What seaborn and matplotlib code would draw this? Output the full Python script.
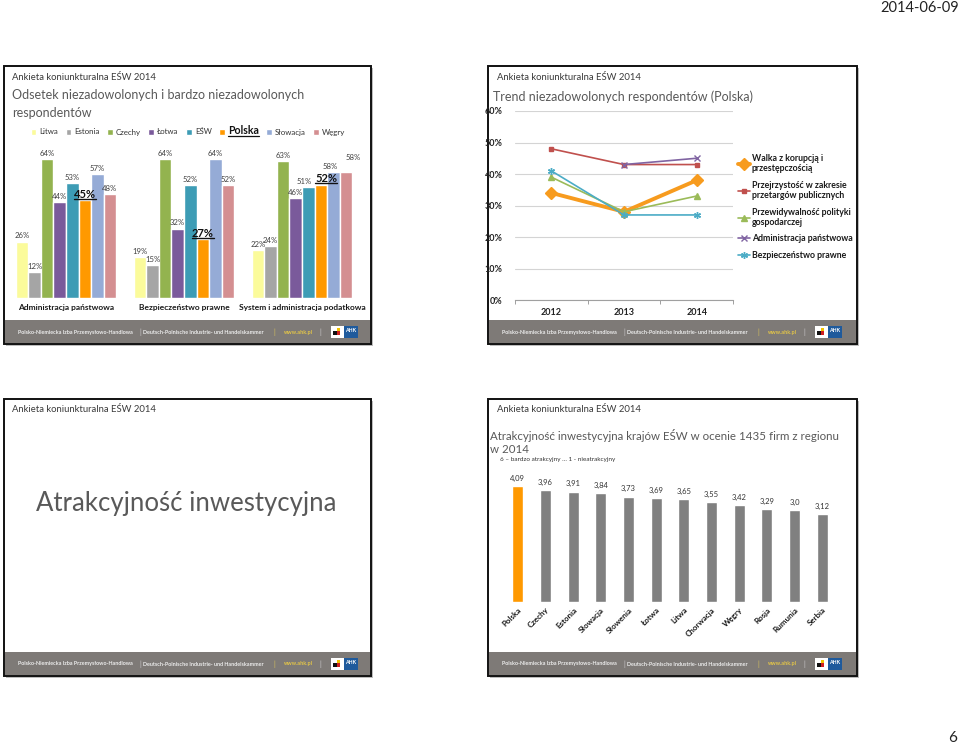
import numpy as np
import pandas as pd
import matplotlib
matplotlib.use("Agg")
import matplotlib.pyplot as plt
import seaborn as sns
from matplotlib.patches import Rectangle
from matplotlib.lines import Line2D

# ---------------- DATA ----------------
# Slide 1: dissatisfied respondents (%)
areas1 = ['Administracja państwowa', 'Bezpieczeństwo prawne', 'System i administracja podatkowa']
countries1 = ['Litwa', 'Estonia', 'Czechy', 'Łotwa', 'EŚW', 'Polska', 'Słowacja', 'Węgry']
litwa = [26, 19, 22]
estonia = [12, 15, 24]
czechy = [64, 64, 63]
lotwa = [44, 32, 46]
esw = [53, 52, 51]
polska = [45, 27, 52]
slowacja = [57, 64, 58]
wegry = [48, 52, 58]

# Slide 2: trend (Polska), %
years = [2012, 2013, 2014]
series_names = ['Walka z korupcją i\nprzestępczością',
                'Przejrzystość w zakresie\nprzetargów publicznych',
                'Przewidywalność polityki\ngospodarczej',
                'Administracja państwowa',
                'Bezpieczeństwo prawne']
walka = [34, 28, 38]
przejrzystosc = [48, 43, 43]
przewidywalnosc = [39, 28, 33]
administracja = [np.nan, 43, 45]
bezpieczenstwo = [41, 27, 27]
y_ticks2 = [0, 10, 20, 30, 40, 50, 60]

# Slide 4: investment attractiveness
countries4 = ['Polska', 'Czechy', 'Estonia', 'Słowacja', 'Słowenia', 'Łotwa', 'Litwa',
              'Chorwacja', 'Węgry', 'Rosja', 'Rumunia', 'Serbia']
scores4 = [4.09, 3.96, 3.91, 3.84, 3.73, 3.69, 3.65, 3.55, 3.42, 3.29, 3.24, 3.12]
score_labels4 = ['4,09', '3,96', '3,91', '3,84', '3,73', '3,69', '3,65', '3,55',
                 '3,42', '3,29', '3,0', '3,12']

# ---------------- STYLE ----------------
sns.set_style('white')
FONT = ['Lato', 'DejaVu Sans']
plt.rcParams['font.family'] = FONT

W, H = 960, 746
fig = plt.figure(figsize=(W / 100, H / 100), dpi=100)
fig.patch.set_facecolor('white')


def fx(x):
    return x / W


def fy(y):
    return 1 - y / H


def axrect(x0, y0, x1, y1):
    return [x0 / W, 1 - y1 / H, (x1 - x0) / W, (y1 - y0) / H]


def ftext(x, y, s, **kw):
    kw.setdefault('va', 'center')
    return fig.text(fx(x), fy(y), s, **kw)


def slide(x0, y0, x1, y1):
    fig.add_artist(Rectangle((fx(x0 + 2), fy(y1 + 2)), (x1 - x0) / W, (y1 - y0) / H,
                             transform=fig.transFigure, fc='#bdbdbd', ec='none', zorder=-3))
    fig.add_artist(Rectangle((fx(x0), fy(y1)), (x1 - x0) / W, (y1 - y0) / H,
                             transform=fig.transFigure, fc='white', ec='#111111', lw=1.4, zorder=-2))
    # footer band
    fig.add_artist(Rectangle((fx(x0 + 1), fy(y1 - 1)), (x1 - x0 - 2) / W, 23 / H,
                             transform=fig.transFigure, fc='#7e7a77', ec='none', zorder=-1))
    yc = y1 - 12
    fs = 3.9
    col = '#ececec'
    ftext(x0 + 14, yc, 'Polsko-Niemiecka Izba Przemysłowo-Handlowa', fontsize=fs, color=col, weight='bold')
    ftext(x0 + 135, yc, '|', fontsize=5, color='#cfcfcf')
    ftext(x0 + 139, yc, 'Deutsch-Polnische Industrie- und Handelskammer', fontsize=fs, color=col, weight='bold')
    ftext(x0 + 269, yc, '|', fontsize=5, color='#d9c35a')
    ftext(x0 + 280, yc, 'www.ahk.pl', fontsize=fs, color='#e3c548', weight='bold')
    ftext(x0 + 315, yc, '|', fontsize=5, color='#cfcfcf')
    # logo
    fig.add_artist(Rectangle((fx(x0 + 327), fy(yc + 6)), 13 / W, 12 / H, transform=fig.transFigure,
                             fc='white', ec='none', zorder=1))
    fig.add_artist(Rectangle((fx(x0 + 329), fy(yc + 3)), 4 / W, 4 / H, transform=fig.transFigure,
                             fc='#111111', ec='none', zorder=2))
    fig.add_artist(Rectangle((fx(x0 + 333), fy(yc + 3)), 3 / W, 4 / H, transform=fig.transFigure,
                             fc='#d02020', ec='none', zorder=2))
    fig.add_artist(Rectangle((fx(x0 + 333), fy(yc - 1)), 3 / W, 3 / H, transform=fig.transFigure,
                             fc='#f2c200', ec='none', zorder=2))
    fig.add_artist(Rectangle((fx(x0 + 340), fy(yc + 6)), 14 / W, 12 / H, transform=fig.transFigure,
                             fc='#1f5a9c', ec='none', zorder=1))
    ftext(x0 + 347, yc - 1, 'AHK', fontsize=3.8, color='white', weight='bold', ha='center', zorder=3)


def underline(t, renderer, lw=1.0):
    bb = t.get_window_extent(renderer)
    inv = fig.transFigure.inverted()
    (a, b), (c, d) = inv.transform([(bb.x0, bb.y0 + 1), (bb.x1, bb.y0 + 1)])
    fig.add_artist(Line2D([a, c], [b, d], transform=fig.transFigure, color=t.get_color(), lw=lw))


# slides
slide(4, 66, 371, 344)
slide(488, 66, 857, 344)
slide(4, 399, 371, 676)
slide(488, 399, 857, 676)

HEAD_C = '#3a3a3a'
TITLE_C = '#595959'

# date and page number
ftext(959, 8, '2014-06-09', fontsize=10.5, color='#222222', ha='right')
ftext(957, 738, '6', fontsize=11, color='#222222', ha='right')

# ---------------- SLIDE 1 ----------------
ftext(12, 77, 'Ankieta koniunkturalna EŚW 2014', fontsize=6.8, color=HEAD_C)
ftext(12, 95, 'Odsetek niezadowolonych i bardzo niezadowolonych', fontsize=9.0, color=TITLE_C)
ftext(12, 113, 'respondentów', fontsize=9.0, color=TITLE_C)

colors1 = ['#FBFB9B', '#A5A5A5', '#93B34F', '#7A5A9B', '#3D9CB5', '#FF9900', '#95ABD6', '#D48F91']
vals1 = [litwa, estonia, czechy, lotwa, esw, polska, slowacja, wegry]
df1 = pd.DataFrame([{'area': a, 'country': c, 'value': v[i]}
                    for c, v in zip(countries1, vals1) for i, a in enumerate(areas1)])

ax1 = fig.add_axes(axrect(7, 146, 361, 298))
ax1.set_facecolor('none')
sns.barplot(data=df1, x='area', y='value', hue='country', hue_order=countries1, order=areas1,
            palette=colors1, saturation=1, width=0.85, gap=0, ax=ax1, legend=True, errorbar=None)
ax1.set_ylim(0, 70)
ax1.set_xlim(-0.5, 2.5)
ax1.set_xlabel('')
ax1.set_ylabel('')
ax1.set_yticks([])
sns.despine(ax=ax1, left=True, bottom=True)
ax1.tick_params(axis='x', length=0, pad=4)
for lab in ax1.get_xticklabels():
    lab.set_fontsize(6)
    lab.set_fontweight('bold')
    lab.set_color('#1a1a1a')

handles1, labels1 = ax1.get_legend_handles_labels()
ax1.get_legend().remove()
leg1 = fig.legend(handles1, labels1, loc='center', bbox_to_anchor=(fx(188), fy(131)), ncol=8,
                  frameon=False, fontsize=5.7, handlelength=0.7, handleheight=0.7,
                  handletextpad=0.4, columnspacing=0.95)
for t in leg1.get_texts():
    t.set_color('#333333')
    if t.get_text() == 'Polska':
        t.set_fontsize(7.6)
        t.set_fontweight('bold')
        t.set_color('#111111')

bold_labels = []
for ci, cont in enumerate(ax1.containers):
    name = countries1[ci]
    vals = vals1[ci]
    if name == 'Polska':
        txts = ax1.bar_label(cont, labels=[f'{v}%' for v in vals], padding=0.5,
                             fontsize=8, fontweight='bold', color='#111111')
        bold_labels.extend(txts)
        txts[2].xyann = (4, 0.5)
    else:
        txts = ax1.bar_label(cont, labels=[f'{v}%' for v in vals], padding=1.5,
                             fontsize=5.6, color='#404040')
    if name == 'Węgry':
        txts[2].xyann = (5, 8)
    if name == 'Słowacja':
        txts[2].xyann = (-2, 1.5)
    if name == 'EŚW':
        txts[2].xyann = (-3, 1.5)

# ---------------- SLIDE 2 ----------------
ftext(497, 77, 'Ankieta koniunkturalna EŚW 2014', fontsize=6.8, color=HEAD_C)
ftext(493, 97, 'Trend niezadowolonych respondentów (Polska)', fontsize=9.0, color=TITLE_C)

ax2 = fig.add_axes(axrect(515, 111, 733, 300))
ax2.set_facecolor('none')
line_data = [walka, przejrzystosc, przewidywalnosc, administracja, bezpieczenstwo]
line_colors = ['#F79B1E', '#C0504D', '#9BBB59', '#8064A2', '#4BACC6']
line_markers = ['D', 's', '^', 'x', (6, 2, 0)]
line_widths = [2.8, 1.2, 1.2, 1.2, 1.2]
marker_sizes = [7, 3.5, 4, 4, 5]
for name, vals, c, m, lw, ms in zip(series_names, line_data, line_colors, line_markers,
                                    line_widths, marker_sizes):
    sns.lineplot(x=years, y=vals, ax=ax2, color=c, marker=m, lw=lw, ms=ms, label=name,
                 errorbar=None, markeredgecolor=c, markeredgewidth=1.0)
ax2.set_xlim(2011.5, 2014.5)
ax2.set_ylim(0, 60)
ax2.set_yticks(y_ticks2)
ax2.set_yticklabels([f'{v}%' for v in y_ticks2])
ax2.set_xticks(years)
ax2.set_xticklabels([str(y) for y in years])
ax2.set_xticks([2011.5, 2012.5, 2013.5, 2014.5], minor=True)
ax2.tick_params(axis='x', which='major', length=0, pad=6)
ax2.tick_params(axis='x', which='minor', length=3, color='#a0a0a0', width=0.7, direction='out', bottom=True)
ax2.tick_params(axis='y', length=0, pad=9)
ax2.grid(axis='y', color='#d4d4d4', lw=0.8)
ax2.grid(axis='x', visible=False)
for s in ['top', 'right', 'left']:
    ax2.spines[s].set_visible(False)
ax2.spines['bottom'].set_color('#a0a0a0')
ax2.spines['bottom'].set_linewidth(0.8)
for lab in ax2.get_xticklabels() + ax2.get_yticklabels():
    lab.set_fontsize(6.5)
    lab.set_fontweight('bold')
    lab.set_color('#222222')
handles2, labels2 = ax2.get_legend_handles_labels()
ax2.get_legend().remove()
for h in handles2:
    h.set_markersize(min(h.get_markersize(), 6))
leg2 = fig.legend(handles2, labels2, loc='upper left', bbox_to_anchor=(fx(730), fy(146)),
                  frameon=False, fontsize=6.3, handlelength=1.4, handletextpad=0.2,
                  labelspacing=0.85)
for t in leg2.get_texts():
    t.set_fontweight('bold')
    t.set_color('#1a1a1a')

# ---------------- SLIDE 3 ----------------
ftext(12, 409, 'Ankieta koniunkturalna EŚW 2014', fontsize=6.8, color=HEAD_C)
ftext(186, 503, 'Atrakcyjność inwestycyjna', fontsize=18.5, color=TITLE_C, ha='center')

# ---------------- SLIDE 4 ----------------
ftext(497, 409, 'Ankieta koniunkturalna EŚW 2014', fontsize=6.8, color=HEAD_C)
ftext(490, 436, 'Atrakcyjność inwestycyjna krajów EŚW w ocenie 1435 firm z regionu', fontsize=8.3,
      color=TITLE_C)
ftext(490, 450, 'w 2014', fontsize=8.3, color=TITLE_C)
ftext(500, 459, '6 – bardzo atrakcyjny … 1 - nieatrakcyjny', fontsize=4.6, color='#333333')

ax4 = fig.add_axes(axrect(504, 472, 836, 602))
ax4.set_facecolor('none')
colors4 = ['#FF9900'] + ['#808080'] * (len(countries4) - 1)
df4 = pd.DataFrame({'kraj': countries4, 'wynik': scores4})
sns.barplot(data=df4, x='kraj', y='wynik', hue='kraj', palette=colors4, saturation=1,
            width=0.4, ax=ax4, legend=False, errorbar=None)
ax4.set_ylim(0, 4.6)
ax4.set_xlim(-0.5, len(countries4) - 0.5)
ax4.set_xlabel('')
ax4.set_ylabel('')
ax4.set_yticks([])
sns.despine(ax=ax4, left=True, bottom=True)
ax4.tick_params(axis='x', length=0, pad=3)
for lab in ax4.get_xticklabels():
    lab.set_rotation(45)
    lab.set_ha('right')
    lab.set_rotation_mode('anchor')
    lab.set_fontsize(5.8)
    lab.set_fontweight('bold')
    lab.set_color('#1a1a1a')
for i, cont in enumerate(ax4.containers):
    ax4.bar_label(cont, labels=[score_labels4[i]], padding=3, fontsize=5.5, color='#333333')

# underline bold Polska labels
fig.canvas.draw()
renderer = fig.canvas.get_renderer()
for t in bold_labels:
    underline(t, renderer, lw=1.0)
for t in leg1.get_texts():
    if t.get_text() == 'Polska':
        underline(t, renderer, lw=0.9)

fig.savefig('out.png', dpi=100, facecolor='white')
